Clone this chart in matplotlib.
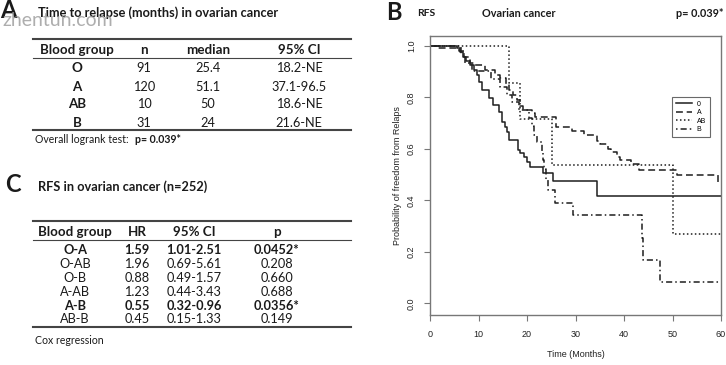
import numpy as np
import matplotlib
matplotlib.use("Agg")
import matplotlib.pyplot as plt
from matplotlib.lines import Line2D

W, H = 726, 365

# ---- table A : time to relapse
a_groups = ["O", "A", "AB", "B"]
a_n = ["91", "120", "10", "31"]
a_median = ["25.4", "51.1", "50", "24"]
a_ci = ["18.2-NE", "37.1-96.5", "18.6-NE", "21.6-NE"]

# ---- table C : cox regression
c_pairs = ["O-A", "O-AB", "O-B", "A-AB", "A-B", "AB-B"]
c_hr = ["1.59", "1.96", "0.88", "1.23", "0.55", "0.45"]
c_ci = ["1.01-2.51", "0.69-5.61", "0.49-1.57", "0.44-3.43", "0.32-0.96", "0.15-1.33"]
c_p = ["0.0452*", "0.208", "0.660", "0.688", "0.0356*", "0.149"]
c_bold = [True, False, False, False, True, False]

# ---- KM curves
t_O = [0, 5.5, 6.2, 6.9, 7.5, 8.3, 9.0, 9.6, 10.1, 10.8, 12.2, 12.9, 14.2, 14.9, 15.5,
       15.9, 16.3, 18.2, 18.6, 19.4, 20.0, 20.7, 23.3, 25.3, 34.4, 60]
s_O = [1.0, 0.99, 0.977, 0.957, 0.94, 0.925, 0.906, 0.885, 0.86, 0.828, 0.796, 0.77, 0.744,
       0.705, 0.685, 0.666, 0.634, 0.595, 0.583, 0.569, 0.55, 0.53, 0.505, 0.476, 0.417, 0.417]

t_A = [0, 1.7, 6.0, 7.0, 8.3, 9.3, 11.3, 13.5, 14.5, 15.6, 16.2, 17.2, 18.0, 18.5, 19.2,
       21.0, 21.7, 25.9, 29.3, 31.8, 34.5, 35.1, 36.8, 37.4, 38.6, 39.2, 41.5, 43.0, 51.0, 59.3, 60]
s_A = [1.0, 0.99, 0.978, 0.957, 0.935, 0.925, 0.906, 0.885, 0.875, 0.85, 0.83, 0.81, 0.79,
       0.765, 0.75, 0.74, 0.724, 0.686, 0.668, 0.653, 0.63, 0.618, 0.6, 0.587, 0.57, 0.556,
       0.543, 0.517, 0.498, 0.472, 0.472]

t_AB = [0, 16.2, 18.6, 25.1, 50.1, 60]
s_AB = [1.0, 0.857, 0.714, 0.536, 0.268, 0.268]

t_B = [0, 6.3, 7.3, 8.6, 12.5, 14.5, 15.8, 17.0, 18.3, 20.5, 21.0, 21.5, 22.0, 23.0, 23.3,
       23.6, 24.0, 24.3, 25.8, 29.4, 43.7, 44.0, 47.5, 60]
s_B = [1.0, 0.968, 0.935, 0.903, 0.87, 0.84, 0.81, 0.78, 0.75, 0.72, 0.69, 0.655, 0.625,
       0.59, 0.555, 0.52, 0.48, 0.44, 0.39, 0.343, 0.255, 0.17, 0.085, 0.085]

plt.rcParams['font.family'] = ['Lato', 'DejaVu Sans']

fig = plt.figure(figsize=(W / 100, H / 100), dpi=100)
fig.patch.set_facecolor('white')

def fx(x):
    return x / W

def fy(y):
    return 1 - y / H

def txt(x, y, s, **kw):
    fig.text(fx(x), fy(y), s, color='#1a1a1a', **kw)

def rule(y, x0=33, x1=351, lw=1.0, c='#444444'):
    fig.add_artist(Line2D([fx(x0), fx(x1)], [fy(y), fy(y)], transform=fig.transFigure,
                          lw=lw, color=c))

# ---------------- panel A
txt(0, 11, "A", fontsize=17, fontweight='bold', ha='left', va='center')
txt(38, 13, "Time to relapse (months) in ovarian cancer", fontsize=9.2, fontweight='bold',
    ha='left', va='center')
fig.text(fx(2), fy(20), "zhentun.com", fontsize=14, color='#9a9a9a', alpha=0.8,
         ha='left', va='center')

colsA = [77, 144, 208, 299]
rule(39, lw=1.5)
rule(58.3, lw=0.8)
rule(130, lw=1.5)
for x, h in zip(colsA, ["Blood group", "n", "median", "95% CI"]):
    txt(x, 50, h, fontsize=9.6, fontweight='bold', ha='center', va='center')
rowsA = [68.3, 86.7, 104.3, 122.7]
for i, y in enumerate(rowsA):
    txt(colsA[0], y, a_groups[i], fontsize=9.6, fontweight='bold', ha='center', va='center')
    txt(colsA[1], y, a_n[i], fontsize=9.2, ha='center', va='center')
    txt(colsA[2], y, a_median[i], fontsize=9.2, ha='center', va='center')
    txt(colsA[3], y, a_ci[i], fontsize=9.2, ha='center', va='center')
fig.text(fx(35), fy(139.5), "Overall logrank test: ", fontsize=7.6, color='#1a1a1a',
         ha='left', va='center')
fig.text(fx(135), fy(139.5), "p= 0.039*", fontsize=7.6, fontweight='bold', color='#1a1a1a',
         ha='left', va='center')

# ---------------- panel C
txt(5, 185, "C", fontsize=17, fontweight='bold', ha='left', va='center')
txt(38, 187, "RFS in ovarian cancer (n=252)", fontsize=9.2, fontweight='bold',
    ha='left', va='center')
colsC = [75, 137, 194, 277]
rule(220.7, lw=1.5)
rule(240, lw=0.8)
rule(327.3, lw=1.5)
for x, h in zip(colsC, ["Blood group", "HR", "95% CI", "p"]):
    txt(x, 231.7, h, fontsize=9.6, fontweight='bold', ha='center', va='center')
rowsC = [250, 264.3, 277.7, 291.7, 306, 319.3]
for i, y in enumerate(rowsC):
    w = 'bold' if c_bold[i] else 'normal'
    for x, s in zip(colsC, [c_pairs[i], c_hr[i], c_ci[i], c_p[i]]):
        txt(x, y, s, fontsize=9.2, fontweight=w, ha='center', va='center')
txt(35, 340.7, "Cox regression", fontsize=7.6, ha='left', va='center')

# ---------------- panel B : KM plot
txt(386, 12, "B", fontsize=17, fontweight='bold', ha='left', va='center')
txt(417, 13.5, "RFS", fontsize=7.5, fontweight='bold', ha='left', va='center')
txt(482, 13.5, "Ovarian cancer", fontsize=7.8, fontweight='bold', ha='left', va='center')
txt(723, 13.5, "p= 0.039*", fontsize=7.8, fontweight='bold', ha='right', va='center')

ax = fig.add_axes([fx(430), fy(315), fx(721) - fx(430), fy(36) - fy(315)])
kw = dict(where='post', color='#1e1e1e', lw=1.1)
ax.step(t_O, s_O, ls='-', label='0', **kw)
ax.step(t_A, s_A, dashes=(4.5, 2.5), label='A', **kw)
ax.step(t_AB, s_AB, dashes=(1, 1.6), label='AB', **kw)
ax.step(t_B, s_B, dashes=(1, 2, 4, 2), label='B', **kw)

ax.set_xlim(0, 60)
ax.set_ylim(-0.045, 1.038)
ax.set_xticks(np.arange(0, 61, 10))
ax.set_yticks(np.arange(0, 1.01, 0.2))
ax.set_yticklabels(["0.0", "0.2", "0.4", "0.6", "0.8", "1.0"], rotation=90, va='center')
for sp in ax.spines.values():
    sp.set_color('#777777')
    sp.set_linewidth(1.0)
ax.tick_params(colors='#777777', labelcolor='#222222', length=4, width=0.8,
               labelsize=6.5)
ax.tick_params(axis='x', pad=7)
ax.tick_params(axis='y', pad=6)
for lab in ax.get_xticklabels() + ax.get_yticklabels():
    lab.set_family('Liberation Sans')
ax.set_xlabel("Time (Months)", fontsize=6.5, family='Liberation Sans', color='#222222',
              labelpad=8)
ax.set_ylabel("Probability of freedom from Relaps", fontsize=6.5, family='Liberation Sans',
              color='#222222', labelpad=4)

leg = ax.legend(loc='upper left', bbox_to_anchor=((672 - 430) / 291, (315 - 97) / 279),
                prop={'family': 'Liberation Sans', 'size': 5}, frameon=True,
                fancybox=False, handlelength=2.4, handletextpad=0.6, borderpad=0.55,
                labelspacing=0.2, borderaxespad=0)
leg.get_frame().set_edgecolor('#444444')
leg.get_frame().set_linewidth(0.8)

fig.savefig("out.png", dpi=100, facecolor='white')
